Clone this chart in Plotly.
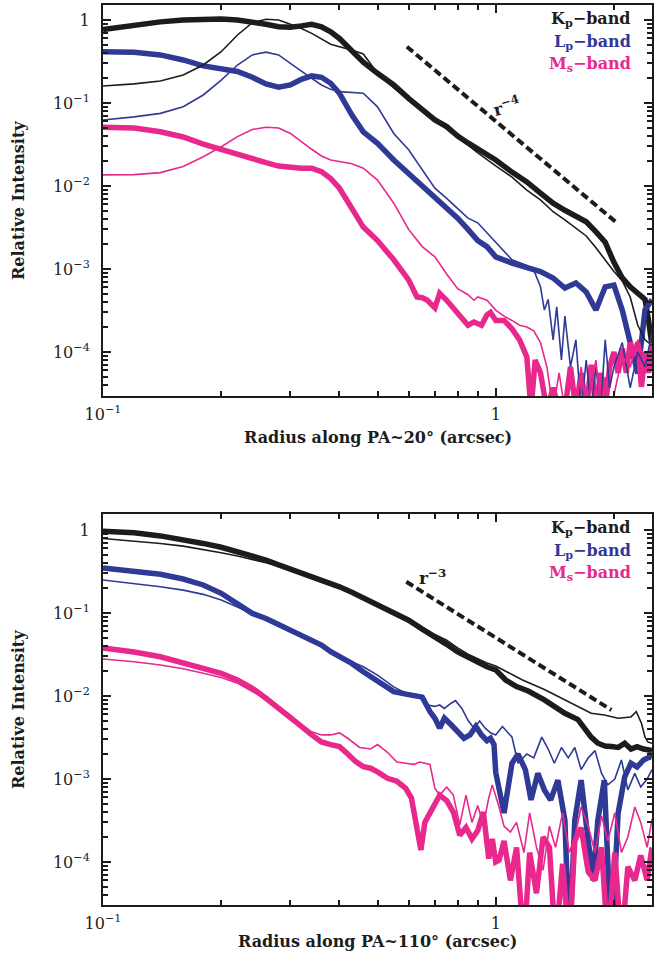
import math
import plotly.graph_objects as go

# ---------------- top panel: PA ~ 20 deg ----------------
r_k20_thick = [0.10,0.12,0.14,0.16,0.18,0.20,0.22,0.24,0.26,0.28,0.30,0.32,0.34,0.36,0.38,0.40,0.43,0.46,0.50,0.55,0.60,0.65,0.70,0.75,0.80,0.85,0.90,0.95,1.0,1.1,1.2,1.3,1.4,1.5,1.6,1.7,1.8,1.9,2.0,2.1,2.2,2.3,2.4,2.45,2.5]
i_k20_thick = [0.77,0.87,0.95,1.0,1.03,1.03,1.0,0.95,0.89,0.83,0.82,0.85,0.89,0.83,0.72,0.60,0.435,0.31,0.228,0.165,0.114,0.082,0.0625,0.052,0.040,0.033,0.028,0.024,0.0206,0.0147,0.0112,0.0082,0.0062,0.0051,0.0044,0.0037,0.0028,0.0021,0.0012,7.8e-4,6.1e-4,5.1e-4,4.3e-4,2.4e-4,1.2e-4]

r_k20_thin = [0.10,0.12,0.14,0.16,0.18,0.20,0.22,0.24,0.26,0.28,0.30,0.32,0.34,0.36,0.38,0.40,0.43,0.46,0.48,0.50,0.55,0.60,0.65,0.70,0.75,0.80,0.85,0.90,0.95,1.0,1.1,1.2,1.3,1.4,1.5,1.6,1.7,1.8,1.9,2.0,2.1,2.2,2.3,2.4,2.5]
i_k20_thin = [0.16,0.17,0.184,0.218,0.287,0.415,0.66,0.93,1.02,1.0,0.89,0.79,0.69,0.585,0.51,0.477,0.435,0.39,0.30,0.228,0.152,0.109,0.080,0.0607,0.0487,0.039,0.031,0.025,0.0206,0.0175,0.0128,0.0089,0.0068,0.0049,0.0039,0.0031,0.0025,0.0018,0.00129,9.3e-4,7.2e-4,4.6e-4,2.1e-4,1.4e-4,1.2e-4]

r_l20_thick = [0.10,0.12,0.14,0.16,0.18,0.20,0.22,0.24,0.26,0.28,0.30,0.32,0.34,0.36,0.38,0.40,0.43,0.46,0.50,0.55,0.60,0.65,0.70,0.75,0.80,0.85,0.90,0.95,1.0,1.1,1.2,1.3,1.4,1.5,1.6,1.7,1.8,1.9,2.0,2.1,2.2,2.3,2.4,2.5]
i_l20_thick = [0.415,0.41,0.38,0.33,0.28,0.26,0.24,0.204,0.17,0.155,0.165,0.193,0.212,0.204,0.173,0.131,0.072,0.045,0.0327,0.0206,0.0141,0.0103,0.0075,0.0056,0.0041,0.0030,0.0022,0.00186,0.0014,1.18e-3,1.03e-3,9.3e-4,7.8e-4,5.9e-4,6.8e-4,5.3e-4,3.2e-4,6.1e-4,6.4e-4,3.2e-4,1.3e-4,5.5e-5,3.2e-4,4.3e-4]

r_l20_thin = [0.10,0.12,0.14,0.16,0.18,0.20,0.22,0.24,0.26,0.28,0.30,0.32,0.34,0.36,0.38,0.40,0.43,0.46,0.50,0.55,0.60,0.65,0.70,0.75,0.80,0.85,0.90,0.95,1.0,1.1,1.2,1.25,1.3,1.33,1.36,1.4,1.43,1.47,1.5,1.55,1.6,1.65,1.7,1.75,1.8,1.85,1.9,1.95,2.0,2.1,2.2,2.3,2.4,2.5]
i_l20_thin = [0.0624,0.068,0.075,0.090,0.125,0.189,0.287,0.38,0.41,0.38,0.30,0.24,0.198,0.165,0.146,0.137,0.134,0.131,0.090,0.043,0.0273,0.0156,0.0094,0.0071,0.0054,0.0041,0.0036,0.0027,0.0021,1.29e-3,1.1e-3,9.7e-4,6.1e-4,3.2e-4,4.3e-4,1.4e-4,3.5e-4,8e-5,2.7e-4,6.6e-5,1.4e-4,2e-5,8e-5,2e-5,6.6e-5,2e-5,1.4e-4,3.7e-5,6.6e-5,1.3e-4,3.7e-5,1.0e-4,6.6e-5,1.7e-4]

r_m20_thick = [0.10,0.12,0.14,0.16,0.18,0.20,0.22,0.24,0.26,0.28,0.30,0.32,0.34,0.36,0.38,0.40,0.43,0.46,0.50,0.55,0.60,0.63,0.65,0.67,0.70,0.72,0.75,0.80,0.85,0.88,0.92,0.95,0.97,1.0,1.05,1.1,1.15,1.2,1.23,1.26,1.3,1.35,1.4,1.45,1.5,1.55,1.6,1.65,1.7,1.75,1.8,1.85,1.9,1.95,2.0,2.05,2.1,2.15,2.2,2.25,2.3,2.35,2.4,2.45,2.5]
i_m20_thick = [0.051,0.050,0.045,0.039,0.032,0.0273,0.0243,0.0215,0.0191,0.0174,0.0166,0.0164,0.0164,0.0149,0.0123,0.0094,0.0054,0.0032,0.0022,0.00129,7.4e-4,4.6e-4,4.5e-4,4.2e-4,3.4e-4,5.1e-4,4.2e-4,3.0e-4,2.1e-4,2.3e-4,2.1e-4,2.8e-4,3.0e-4,2.4e-4,2.4e-4,1.9e-4,1.4e-4,8.7e-5,2e-5,8e-5,5.6e-5,2e-5,3.7e-5,2e-5,2e-5,6.6e-5,2e-5,5.6e-5,2e-5,7e-5,2e-5,5.6e-5,2e-5,6.6e-5,1e-4,5.6e-5,1.1e-4,5.6e-5,1.3e-4,9e-5,1.3e-4,3.8e-5,1e-4,5.6e-5,1.3e-4]

r_m20_thin = [0.10,0.12,0.14,0.16,0.18,0.20,0.22,0.24,0.26,0.28,0.30,0.32,0.34,0.36,0.38,0.40,0.43,0.46,0.50,0.55,0.60,0.65,0.70,0.75,0.80,0.85,0.88,0.90,0.95,1.0,1.05,1.1,1.15,1.2,1.25,1.3,1.35,1.4,1.45,1.5,1.55,1.6,1.65,1.7,1.75,1.8,1.85,1.9,1.95,2.0,2.1,2.2,2.3,2.4,2.5]
i_m20_thin = [0.0136,0.0137,0.0145,0.0172,0.0225,0.0297,0.0394,0.048,0.051,0.050,0.043,0.034,0.0277,0.0230,0.0206,0.0197,0.0185,0.0164,0.0118,0.0062,0.0030,0.00186,0.0014,8.7e-4,5.8e-4,4.9e-4,4.2e-4,4.6e-4,4.2e-4,3.2e-4,2.7e-4,2.4e-4,2.1e-4,2.0e-4,1.8e-4,1.3e-4,6.6e-5,2e-5,5.6e-5,2e-5,5.6e-5,2e-5,6.6e-5,2e-5,4e-5,8e-5,2e-5,5e-5,2e-5,3e-5,9e-5,6.6e-5,1.4e-4,8e-5,1.0e-4]

r_pow4 = [0.594, 2.02]
i_pow4 = [0.477, 0.0037]

# ---------------- bottom panel: PA ~ 110 deg ----------------
r_k110_thick = [0.10,0.12,0.14,0.16,0.18,0.20,0.22,0.24,0.26,0.28,0.30,0.32,0.34,0.36,0.38,0.40,0.43,0.46,0.50,0.55,0.60,0.65,0.70,0.75,0.80,0.85,0.90,0.95,1.0,1.06,1.13,1.21,1.33,1.42,1.5,1.62,1.75,1.82,1.9,1.97,2.05,2.13,2.21,2.29,2.38,2.5]
i_k110_thick = [0.97,0.93,0.85,0.77,0.69,0.62,0.548,0.49,0.435,0.38,0.339,0.306,0.274,0.25,0.228,0.207,0.178,0.153,0.125,0.099,0.082,0.064,0.052,0.042,0.034,0.029,0.0254,0.0225,0.0207,0.0156,0.0130,0.0115,0.0090,0.0072,0.0062,0.0052,0.0032,0.0027,0.0025,0.00246,0.0024,0.0027,0.0023,0.00246,0.0023,0.0022]

r_k110_thin = [0.10,0.12,0.14,0.16,0.18,0.20,0.22,0.24,0.26,0.28,0.30,0.32,0.34,0.36,0.38,0.40,0.43,0.46,0.50,0.55,0.60,0.65,0.70,0.75,0.80,0.85,0.90,0.95,1.0,1.17,1.33,1.5,1.62,1.75,1.89,2.05,2.21,2.28,2.35,2.4,2.44,2.5]
i_k110_thin = [0.79,0.74,0.69,0.64,0.585,0.533,0.486,0.443,0.404,0.368,0.336,0.305,0.275,0.25,0.228,0.208,0.180,0.156,0.128,0.102,0.085,0.067,0.055,0.047,0.038,0.032,0.028,0.025,0.023,0.0156,0.0120,0.0090,0.0075,0.0062,0.0059,0.0054,0.0056,0.0065,0.0047,0.0032,0.0028,0.0027]

r_l110_thick = [0.10,0.12,0.14,0.16,0.18,0.20,0.22,0.24,0.26,0.28,0.30,0.32,0.34,0.36,0.38,0.40,0.43,0.46,0.50,0.55,0.60,0.63,0.65,0.68,0.70,0.72,0.74,0.77,0.80,0.83,0.86,0.89,0.92,0.95,0.97,0.99,1.0,1.01,1.05,1.10,1.14,1.19,1.23,1.28,1.33,1.38,1.44,1.50,1.54,1.59,1.65,1.72,1.77,1.82,1.89,1.97,2.05,2.13,2.21,2.29,2.38,2.47,2.5]
i_l110_thick = [0.35,0.323,0.293,0.257,0.218,0.173,0.131,0.099,0.086,0.073,0.0624,0.0555,0.0472,0.0411,0.0342,0.0297,0.0247,0.0196,0.0149,0.0113,0.0104,0.0099,0.0097,0.0065,0.0054,0.0041,0.0054,0.0045,0.0037,0.0031,0.0034,0.0043,0.0034,0.0029,0.0031,0.0026,0.0012,9.7e-4,3.9e-4,1.55e-3,2.0e-3,1.29e-3,5.6e-4,1.17e-3,7.4e-4,5.6e-4,9.7e-4,3.2e-4,1e-5,3.2e-4,9.7e-4,1.8e-4,6e-5,3.2e-4,9.7e-4,1e-5,3.9e-4,1.06e-3,1.55e-3,1.4e-3,1.7e-3,1.85e-3,1.8e-3]

r_l110_thin = [0.10,0.12,0.14,0.16,0.18,0.20,0.22,0.24,0.26,0.28,0.30,0.32,0.34,0.36,0.38,0.40,0.43,0.46,0.50,0.55,0.58,0.60,0.63,0.65,0.67,0.70,0.72,0.74,0.77,0.79,0.82,0.85,0.88,0.91,0.94,0.97,1.0,1.04,1.10,1.14,1.2,1.25,1.31,1.36,1.41,1.47,1.53,1.59,1.65,1.72,1.79,1.86,1.93,2.01,2.09,2.17,2.26,2.34,2.43,2.5]
i_l110_thin = [0.25,0.228,0.207,0.189,0.168,0.144,0.119,0.099,0.082,0.071,0.0608,0.054,0.047,0.042,0.036,0.031,0.0259,0.0225,0.0179,0.0129,0.0113,0.0104,0.0104,0.0099,0.0078,0.0075,0.0078,0.0071,0.0082,0.0088,0.0071,0.0051,0.0041,0.0050,0.0041,0.0036,0.0034,4.3e-3,3.2e-3,1.55e-3,2.0e-3,1.8e-3,3.2e-3,2.3e-3,1.55e-3,2.4e-3,1.8e-3,2.4e-3,1.3e-3,1.8e-3,2.2e-3,1.17e-3,8.5e-4,1.0e-3,1.7e-3,7.4e-4,1.17e-3,8e-4,1.0e-3,1.3e-3]

r_m110_thick = [0.10,0.12,0.14,0.16,0.18,0.20,0.22,0.24,0.26,0.28,0.30,0.32,0.34,0.36,0.38,0.40,0.42,0.44,0.46,0.48,0.50,0.53,0.56,0.59,0.61,0.63,0.645,0.66,0.69,0.72,0.75,0.78,0.81,0.84,0.87,0.90,0.93,0.96,0.98,1.0,1.02,1.05,1.09,1.13,1.18,1.22,1.27,1.32,1.37,1.42,1.48,1.54,1.59,1.65,1.72,1.79,1.86,1.93,2.01,2.09,2.17,2.26,2.34,2.43,2.5]
i_m110_thick = [0.038,0.034,0.0297,0.0254,0.0216,0.0188,0.0156,0.0124,0.0094,0.0070,0.0054,0.0043,0.0034,0.0028,0.0026,0.00246,0.0020,0.00162,0.00141,0.00135,0.00122,0.00102,0.00094,7.7e-4,5.9e-4,2.3e-4,1.4e-4,3.0e-4,4.4e-4,6.4e-4,5.5e-4,4.0e-4,2.1e-4,2.6e-4,1.9e-4,2.4e-4,4.0e-4,1.1e-4,1.9e-4,1.0e-4,1.05e-4,1.8e-4,6e-5,1.5e-4,1e-5,1.3e-4,4.2e-5,2.0e-4,1.5e-4,1e-5,9.5e-5,1e-5,1.8e-4,2.6e-4,7.6e-5,6e-5,1.5e-4,1e-5,1.3e-4,1e-5,8.8e-5,6e-5,1.2e-4,6e-5,1.5e-4]

r_m110_thin = [0.10,0.12,0.14,0.16,0.18,0.20,0.22,0.24,0.26,0.28,0.30,0.32,0.34,0.36,0.38,0.40,0.42,0.45,0.48,0.50,0.53,0.56,0.59,0.62,0.64,0.66,0.68,0.70,0.72,0.75,0.78,0.81,0.84,0.87,0.90,0.93,0.96,0.98,1.0,1.02,1.05,1.09,1.13,1.18,1.22,1.27,1.32,1.37,1.42,1.48,1.54,1.59,1.65,1.72,1.79,1.86,1.93,2.01,2.09,2.17,2.26,2.34,2.43,2.5]
i_m110_thin = [0.028,0.0259,0.0237,0.0213,0.0188,0.0167,0.0143,0.0113,0.0094,0.0075,0.0059,0.0045,0.0037,0.0034,0.0034,0.0036,0.0031,0.0024,0.0023,0.0026,0.0021,0.0016,0.00155,0.0015,0.0016,0.00155,0.0015,7.7e-4,6.4e-4,8.0e-4,6.4e-4,2.8e-4,6.4e-4,3.0e-4,4.8e-4,2.8e-4,5.9e-4,8.5e-4,6.4e-4,4.6e-4,2.7e-4,2.3e-4,3.0e-4,1.3e-4,3.9e-4,1.5e-4,8e-5,2.7e-4,1.5e-4,3.9e-4,1.3e-4,2e-4,4.6e-4,2.7e-4,1.3e-4,3.6e-4,1.8e-4,3.9e-4,1.3e-4,2e-4,4.6e-4,3e-4,1.5e-4,3.3e-4]

r_pow3 = [0.592, 1.97]
i_pow3 = [0.238, 0.0068]

# ticks
x_tickvals = [0.1, 1]
x_ticktext = ["10<sup>−1</sup>", "1"]
x_minor = [0.2, 0.3, 0.4, 0.5, 0.6, 0.7, 0.8, 0.9, 2]
y_tickvals = [1e-4, 1e-3, 1e-2, 1e-1, 1]
y_ticktext = ["10<sup>−4</sup>", "10<sup>−3</sup>", "10<sup>−2</sup>", "10<sup>−1</sup>", "1"]
y_minor = [k * 10.0 ** d for d in range(-5, 1) for k in range(2, 10)]

band_labels = ["K<sub>p</sub>−band", "L<sub>p</sub>−band", "M<sub>s</sub>−band"]

BLACK = "#1c1c1c"
BLUE = "#2f3996"
PINK = "#e8288c"
THICK = 5.5
THIN = 1.6
SERIF = "DejaVu Serif"

fig = go.Figure()


def add(x, y, color, width, xa, ya, dash=None):
    fig.add_trace(go.Scatter(x=x, y=y, mode="lines",
                             line=dict(color=color, width=width, dash=dash),
                             xaxis=xa, yaxis=ya, showlegend=False,
                             hoverinfo="skip"))


# top panel
add(r_k20_thick, i_k20_thick, BLACK, THICK, "x", "y")
add(r_l20_thick, i_l20_thick, BLUE, THICK, "x", "y")
add(r_m20_thick, i_m20_thick, PINK, THICK, "x", "y")
add(r_k20_thin, i_k20_thin, BLACK, THIN, "x", "y")
add(r_l20_thin, i_l20_thin, BLUE, THIN, "x", "y")
add(r_m20_thin, i_m20_thin, PINK, THIN, "x", "y")
add(r_pow4, i_pow4, BLACK, 4, "x", "y", dash="8px,4px")

# bottom panel
add(r_k110_thick, i_k110_thick, BLACK, THICK, "x2", "y2")
add(r_l110_thick, i_l110_thick, BLUE, THICK, "x2", "y2")
add(r_m110_thick, i_m110_thick, PINK, THICK, "x2", "y2")
add(r_k110_thin, i_k110_thin, BLACK, THIN, "x2", "y2")
add(r_l110_thin, i_l110_thin, BLUE, THIN, "x2", "y2")
add(r_m110_thin, i_m110_thin, PINK, THIN, "x2", "y2")
add(r_pow3, i_pow3, BLACK, 4, "x2", "y2", dash="8px,4px")

tickfont = dict(family=SERIF, size=16, color="#222")


def xaxis_cfg(anchor):
    return dict(type="log", range=[-1, math.log10(2.5)], anchor=anchor,
                showline=True, linecolor=BLACK, linewidth=2, mirror="allticks",
                ticks="inside", ticklen=8, tickwidth=1.5, tickcolor=BLACK,
                tickmode="array", tickvals=x_tickvals, ticktext=x_ticktext,
                minor=dict(tickmode="array", tickvals=x_minor, ticks="inside",
                           ticklen=5, tickwidth=1.5, tickcolor=BLACK, showgrid=False),
                showgrid=False, zeroline=False, tickfont=tickfont,
                ticklabelstandoff=3)


def yaxis_cfg(anchor, domain, rng):
    return dict(type="log", range=rng, anchor=anchor, domain=domain,
                showline=True, linecolor=BLACK, linewidth=2, mirror="allticks",
                ticks="inside", ticklen=8, tickwidth=1.5, tickcolor=BLACK,
                tickmode="array", tickvals=y_tickvals, ticktext=y_ticktext,
                minor=dict(tickmode="array", tickvals=y_minor, ticks="inside",
                           ticklen=5, tickwidth=1.5, tickcolor=BLACK, showgrid=False),
                showgrid=False, zeroline=False, tickfont=tickfont,
                ticklabelstandoff=8)


annotations = []
legend_y = [0.964, 0.905, 0.847]
legend_c = [BLACK, BLUE, PINK]
for yref, xref in (("y domain", "x domain"), ("y2 domain", "x2 domain")):
    for lbl, yy, col in zip(band_labels, legend_y, legend_c):
        annotations.append(dict(text="<b>" + lbl + "</b>", xref=xref, yref=yref,
                                x=0.965, y=yy, xanchor="right", yanchor="middle",
                                showarrow=False,
                                font=dict(family=SERIF, size=16, color=col)))

annotations.append(dict(text="<b>r<sup>−4</sup></b>", xref="x", yref="y",
                        x=math.log10(1.065), y=math.log10(0.092),
                        showarrow=False, textangle=-15,
                        font=dict(family=SERIF, size=17, color=BLACK)))
annotations.append(dict(text="<b>r<sup>−3</sup></b>", xref="x2", yref="y2",
                        x=math.log10(0.69), y=math.log10(0.27),
                        showarrow=False,
                        font=dict(family=SERIF, size=17, color=BLACK)))

title_font = dict(family=SERIF, size=16, color=BLACK)
for yref in ("y domain", "y2 domain"):
    annotations.append(dict(text="<b>Relative Intensity</b>", xref="paper", yref=yref,
                            x=-0.154, y=0.5, textangle=-90, showarrow=False,
                            xanchor="center", yanchor="middle", font=title_font))
annotations.append(dict(text="<b>Radius along PA~20° (arcsec)</b>", xref="paper", yref="paper",
                        x=0.5, y=0.52, showarrow=False, yanchor="middle", font=title_font))
annotations.append(dict(text="<b>Radius along PA~110° (arcsec)</b>", xref="paper", yref="paper",
                        x=0.5, y=-0.041, showarrow=False, yanchor="middle", font=title_font))

fig.update_layout(
    width=654, height=954,
    margin=dict(l=103, r=0, t=5, b=49),
    paper_bgcolor="white", plot_bgcolor="white",
    xaxis=xaxis_cfg("y"),
    yaxis=yaxis_cfg("x", [0.5656, 1.0], [-4.53, 0.181]),
    xaxis2=xaxis_cfg("y2"),
    yaxis2=yaxis_cfg("x2", [0.0, 0.4344], [-4.518, 0.193]),
    annotations=annotations,
    showlegend=False,
)

fig.write_html("out.html",
               config={"displayModeBar": False},
               post_script="document.body.style.margin='0';document.body.style.overflow='hidden';")
